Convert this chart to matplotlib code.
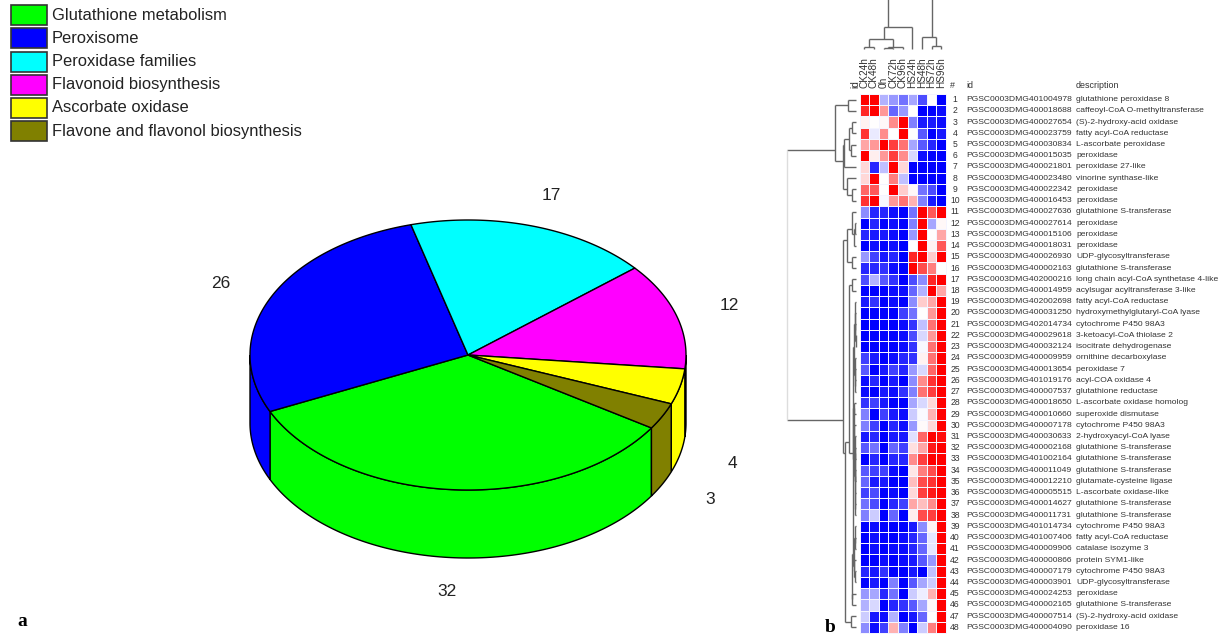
import numpy as np
import matplotlib
matplotlib.use("Agg")
import matplotlib.pyplot as plt
from matplotlib.patches import Polygon, Rectangle

plt.rcParams["font.family"] = ["Liberation Sans", "DejaVu Sans"]

# pie data
pie_names = ["Glutathione metabolism", "Peroxisome", "Peroxidase families",
             "Flavonoid biosynthesis", "Ascorbate oxidase", "Flavone and flavonol biosynthesis"]
pie_counts = [32, 26, 17, 12, 4, 3]
pie_colors = ["#00ff00", "#0000ff", "#00ffff", "#ff00ff", "#ffff00", "#808000"]
pie_label_pos = [(447, 591), (221, 283), (551, 195), (729, 306), (732, 463), (710, 499)]

# heatmap data
col_names = ["CK24h", "CK48h", "0h", "CK72h", "CK96h", "HS24h", "HS48h", "HS72h", "HS96h"]

gene_ids = ["401004978", "400018688", "400027654", "400023759", "400030834", "400015035",
            "400021801", "400023480", "400022342", "400016453", "400027636", "400027614",
            "400015106", "400018031", "400026930", "400002163", "402000216", "400014959",
            "402002698", "400031250", "402014734", "400029618", "400032124", "400009959",
            "400013654", "401019176", "400007537", "400018650", "400010660", "400007178",
            "400030633", "400002168", "401002164", "400011049", "400012210", "400005515",
            "400014627", "400011731", "401014734", "401007406", "400009906", "400000866",
            "400007179", "400003901", "400024253", "400002165", "400007514", "400004090"]

gst = "glutathione S-transferase"
descriptions = ["glutathione peroxidase 8", "caffeoyl-CoA O-methyltransferase",
                "(S)-2-hydroxy-acid oxidase", "fatty acyl-CoA reductase", "L-ascorbate peroxidase",
                "peroxidase", "peroxidase 27-like", "vinorine synthase-like", "peroxidase", "peroxidase",
                gst, "peroxidase", "peroxidase", "peroxidase", "UDP-glycosyltransferase", gst,
                "long chain acyl-CoA synthetase 4-like", "acylsugar acyltransferase 3-like",
                "fatty acyl-CoA reductase", "hydroxymethylglutaryl-CoA lyase", "cytochrome P450 98A3",
                "3-ketoacyl-CoA thiolase 2", "isocitrate dehydrogenase", "ornithine decarboxylase",
                "peroxidase 7", "acyl-COA oxidase 4", "glutathione reductase",
                "L-ascorbate oxidase homolog", "superoxide dismutase", "cytochrome P450 98A3",
                "2-hydroxyacyl-CoA lyase", gst, gst, gst, "glutamate-cysteine ligase",
                "L-ascorbate oxidase-like", gst, gst, "cytochrome P450 98A3", "fatty acyl-CoA reductase",
                "catalase isozyme 3", "protein SYM1-like", "cytochrome P450 98A3",
                "UDP-glycosyltransferase", "peroxidase", gst, "(S)-2-hydroxy-acid oxidase", "peroxidase 16"]

heat_values = [
    [1, 1, -.3, -.4, -.55, -.35, -.7, 0, -1],
    [.85, 1, .4, -.6, -.4, 0, -1, -1, -.95],
    [.05, 0, .03, .45, 1, -.5, -.9, -.9, -.95],
    [.8, -.08, .45, 0, 1, 0, -.65, -1, -.9],
    [.35, .4, 1, .75, .55, -.35, -.65, -.85, -1],
    [1, .07, .4, .75, .45, -.15, -.95, -1, -1],
    [.15, -.85, -.25, 1, .15, -1, -1, -1, -1],
    [.15, 1, 0, .5, -.25, -1, -1, -1, -1],
    [.6, .65, 0, 1, .2, .03, -.55, -.7, -1],
    [.8, 1, -.03, .4, .55, .3, -.5, -.9, -1],
    [-.45, -.85, -.85, -.95, -1, -.55, 1, .65, 1],
    [-1, -.85, -1, -.95, -1, -.5, 1, -.35, .03],
    [-.85, -.9, -.9, -.95, -1, -.4, 1, 0, .35],
    [-1, -.95, -1, -.95, -1, 0, 1, .05, .65],
    [-.4, -.75, -.9, -.85, -1, .85, 1, .2, 1],
    [-.85, -.85, -.8, -.95, -1, 1, .7, .5, 0],
    [-.7, -.3, -.65, -.8, -1, -.7, -.45, .85, 1],
    [-1, -1, -1, -.95, -.95, -.6, -.3, 1, .35],
    [-.9, -.8, -1, -.95, -1, -.45, .2, .35, 1],
    [-1, -1, -1, -1, -.75, -.55, 0, .4, 1],
    [-1, -1, -1, -1, -.95, -.8, -.25, .55, 1],
    [-1, -1, -1, -1, -.95, -.7, -.15, .4, 1],
    [-1, -1, -1, -1, -.95, -.8, -.03, .55, 1],
    [-.75, -.9, -1, -.95, -.85, -.8, .05, .55, 1],
    [-.65, -1, -.9, -.75, -.85, -.4, -.15, .6, 1],
    [-.95, -.85, -1, -.9, -1, -.45, .45, .8, 1],
    [-.95, -1, -.9, -.95, -.8, -.5, .55, .75, 1],
    [-.8, -.75, -.9, -1, -1, -.35, -.15, .15, 1],
    [-.5, -1, -.75, -.9, -.95, -.2, -.02, .3, 1],
    [-.5, -.75, -1, -.85, -.95, -.4, .02, .15, 1],
    [-.9, -.85, -1, -.9, -.9, -.12, .6, 1, .95],
    [-.65, -.55, -1, -.6, -.75, .12, .35, .9, 1],
    [-1, -.85, -1, -.85, -.85, .45, .75, 1, 1],
    [-.65, -.75, -.75, -.95, -1, .1, .5, .7, 1],
    [-.6, -.9, -.9, -1, -1, .25, .7, .8, 1],
    [-.75, -.7, -1, -.95, -1, .15, .75, .9, 1],
    [-.55, -.7, -1, -.85, -.75, .35, .25, .45, 1],
    [-.5, -.2, -1, -.6, -1, .07, .7, .75, 1],
    [-1, -.95, -1, -1, -1, -.9, -.45, .05, 1],
    [-1, -.95, -1, -1, -.95, -.85, -.6, -.1, 1],
    [-1, -.95, -1, -.95, -.95, -.85, -.6, -.1, 1],
    [-1, -1, -.95, -1, -.95, -.9, -.65, -.4, 1],
    [-.85, -.9, -.8, -1, -1, -.9, -1, -.25, 1],
    [-1, -.9, -1, -.5, -1, -.65, -.35, -.2, 1],
    [-.4, -.35, -.85, -.55, -1, -.2, -.07, .3, 1],
    [-.3, -.15, -1, -.85, -.8, -.65, -.35, .03, 1],
    [-.2, -.9, -.95, -.3, -1, -.9, -.6, 0, 1],
    [-.45, -.95, -.75, .3, -.5, -1, -.2, .5, 1],
]

# dendrograms as [merge distance, child, child], leaves are row / column numbers
rows_top = [21, [8.5, 0, 1],
            [12.7, [11.7, [7, [4, 2, 3], [5, 4, 5]], 6],
             [9.5, 7, [4.5, 8, 9]]]]
rows_a = [9, [3.7, 10, [2.5, [1.5, 11, 12], 13]], [4.3, 14, 15]]
rows_b = [2.6, [1.8, [1.2, 18, [.9, 19, [.6, 20, [.5, 21, 22]]]], [1.2, 23, [.8, 24, [.6, 25, 26]]]],
          [2.2, [1.6, 27, 28], [1.8, 29, [1.4, 30, [1.1, [.8, 31, 32], [.9, [.7, 33, 34], [.8, 35, [.7, 36, 37]]]]]]]]
rows_c = [3.8, [2.2, [1.4, 38, [1.0, 39, 40]], [1.6, 41, [1.2, 42, 43]]], [4, 44, 45]]
rows_low = [13, rows_a,
            [11, [7.3, [4, 16, 17], [3.3, rows_b, rows_c]], [5, 46, 47]]]
row_tree = [69, rows_top, rows_low]
col_tree = [60, [22, [10, [2.5, 0, 1], [2.5, [1.5, 2, 3], 4]], 5],
            [12, 6, [3, 7, 8]]]

# layout in pixels of the 1228x635 picture
pie_cx, pie_cy, pie_rx, pie_ry, pie_depth = 468, 355, 218, 135, 68
pie_start = -32.7
heat_left, heat_right, heat_top, heat_bottom = 859.5, 946, 94, 633
row_leaf_x, col_leaf_y = 856, 49
text_col = "#333333"

fig = plt.figure(figsize=(12.28, 6.35), dpi=100)
ax = fig.add_axes([0, 0, 1, 1])
ax.set_xlim(0, 1228)
ax.set_ylim(635, 0)
ax.set_axis_off()


def arc(a1, a2, dy=0):
    t = np.radians(np.linspace(a1, a2, 120))
    return np.c_[pie_cx + pie_rx * np.cos(t), pie_cy + dy - pie_ry * np.sin(t)]


# pie goes clockwise from the start angle
angles = pie_start - np.r_[0, np.cumsum(pie_counts)] / sum(pie_counts) * 360
for i in range(len(pie_counts)):
    hi, lo = angles[i], angles[i + 1]
    # side wall, only the front half of the rim can be seen
    for shift in (0, 360):
        a1, a2 = min(hi + shift, 0), max(lo + shift, -180)
        if a1 > a2:
            wall = np.r_[arc(a1, a2), arc(a2, a1, pie_depth)]
            ax.add_patch(Polygon(wall, fc=pie_colors[i], ec="black", lw=1, zorder=2))
for i in range(len(pie_counts)):
    top = np.r_[[[pie_cx, pie_cy]], arc(angles[i], angles[i + 1])]
    ax.add_patch(Polygon(top, fc=pie_colors[i], ec="black", lw=1, zorder=3))
for n, pos in zip(pie_counts, pie_label_pos):
    ax.text(pos[0], pos[1], str(n), fontsize=12.5, color="#222222", ha="center", va="center")

# legend
for i, name in enumerate(pie_names):
    y = 15 + i * 23.25
    ax.add_patch(Rectangle((10.5, y - 10), 36, 20, fc=pie_colors[i], ec="#333333", lw=1.2))
    ax.text(52, y, name, fontsize=11.9, color="#222222", va="center")

ax.text(22, 622, "a", fontsize=14, fontweight="bold", family="Liberation Serif", ha="center", va="center")
ax.text(830, 628, "b", fontsize=14, fontweight="bold", family="Liberation Serif", ha="center", va="center")

# heatmap
heat = np.array(heat_values)
xs = np.linspace(heat_left, heat_right, heat.shape[1] + 1)
ys = np.linspace(heat_top, heat_bottom, heat.shape[0] + 1)
ax.pcolormesh(xs, ys, heat, cmap="bwr", vmin=-1, vmax=1, edgecolors="#f4f4ff", linewidth=0.5)
col_mid = (xs[:-1] + xs[1:]) / 2
row_mid = (ys[:-1] + ys[1:]) / 2

for x, name in zip(col_mid, col_names):
    ax.text(x, 88, name, fontsize=7.2, rotation=90, color=text_col, ha="center", va="bottom")
ax.text(855, 88, "id", fontsize=7.2, rotation=90, color=text_col, ha="center", va="bottom")
ax.text(952.5, 85, "#", fontsize=6.4, color=text_col, ha="center", va="center")
ax.text(966, 85, "id", fontsize=6.4, color=text_col, va="center")
ax.text(1076, 85, "description", fontsize=6.4, color=text_col, va="center")
for i, y in enumerate(row_mid):
    ax.text(955, y, str(i + 1), fontsize=6.2, color=text_col, ha="center", va="center")
    ax.text(966.5, y, "PGSC0003DMG" + gene_ids[i], fontsize=6.1, color=text_col, va="center")
    ax.text(1076.5, y, descriptions[i], fontsize=6.1, color=text_col, va="center")


def draw_tree(node, leaf_pos, to_xy, is_root=False):
    # stem sits at the mean position of the leaves under a node
    if not isinstance(node, list):
        return [leaf_pos[node]], 0
    d, left, right = node
    leaves1, d1 = draw_tree(left, leaf_pos, to_xy)
    leaves2, d2 = draw_tree(right, leaf_pos, to_xy)
    p1, p2 = np.mean(leaves1), np.mean(leaves2)
    segs = [([p1, p1], [d1, d], "#666666"), ([p2, p2], [d2, d], "#666666"),
            ([p1, p2], [d, d], "#dddddd" if is_root else "#666666")]
    for p, q, c in segs:
        ax.plot(*to_xy(p, q), color=c, lw=1, solid_capstyle="butt", zorder=1)
    return leaves1 + leaves2, d


draw_tree(row_tree, row_mid, lambda p, q: (row_leaf_x - np.array(q), p), is_root=True)
draw_tree(col_tree, col_mid, lambda p, q: (p, col_leaf_y - np.array(q)), is_root=True)

fig.savefig("out.png", dpi=100)
